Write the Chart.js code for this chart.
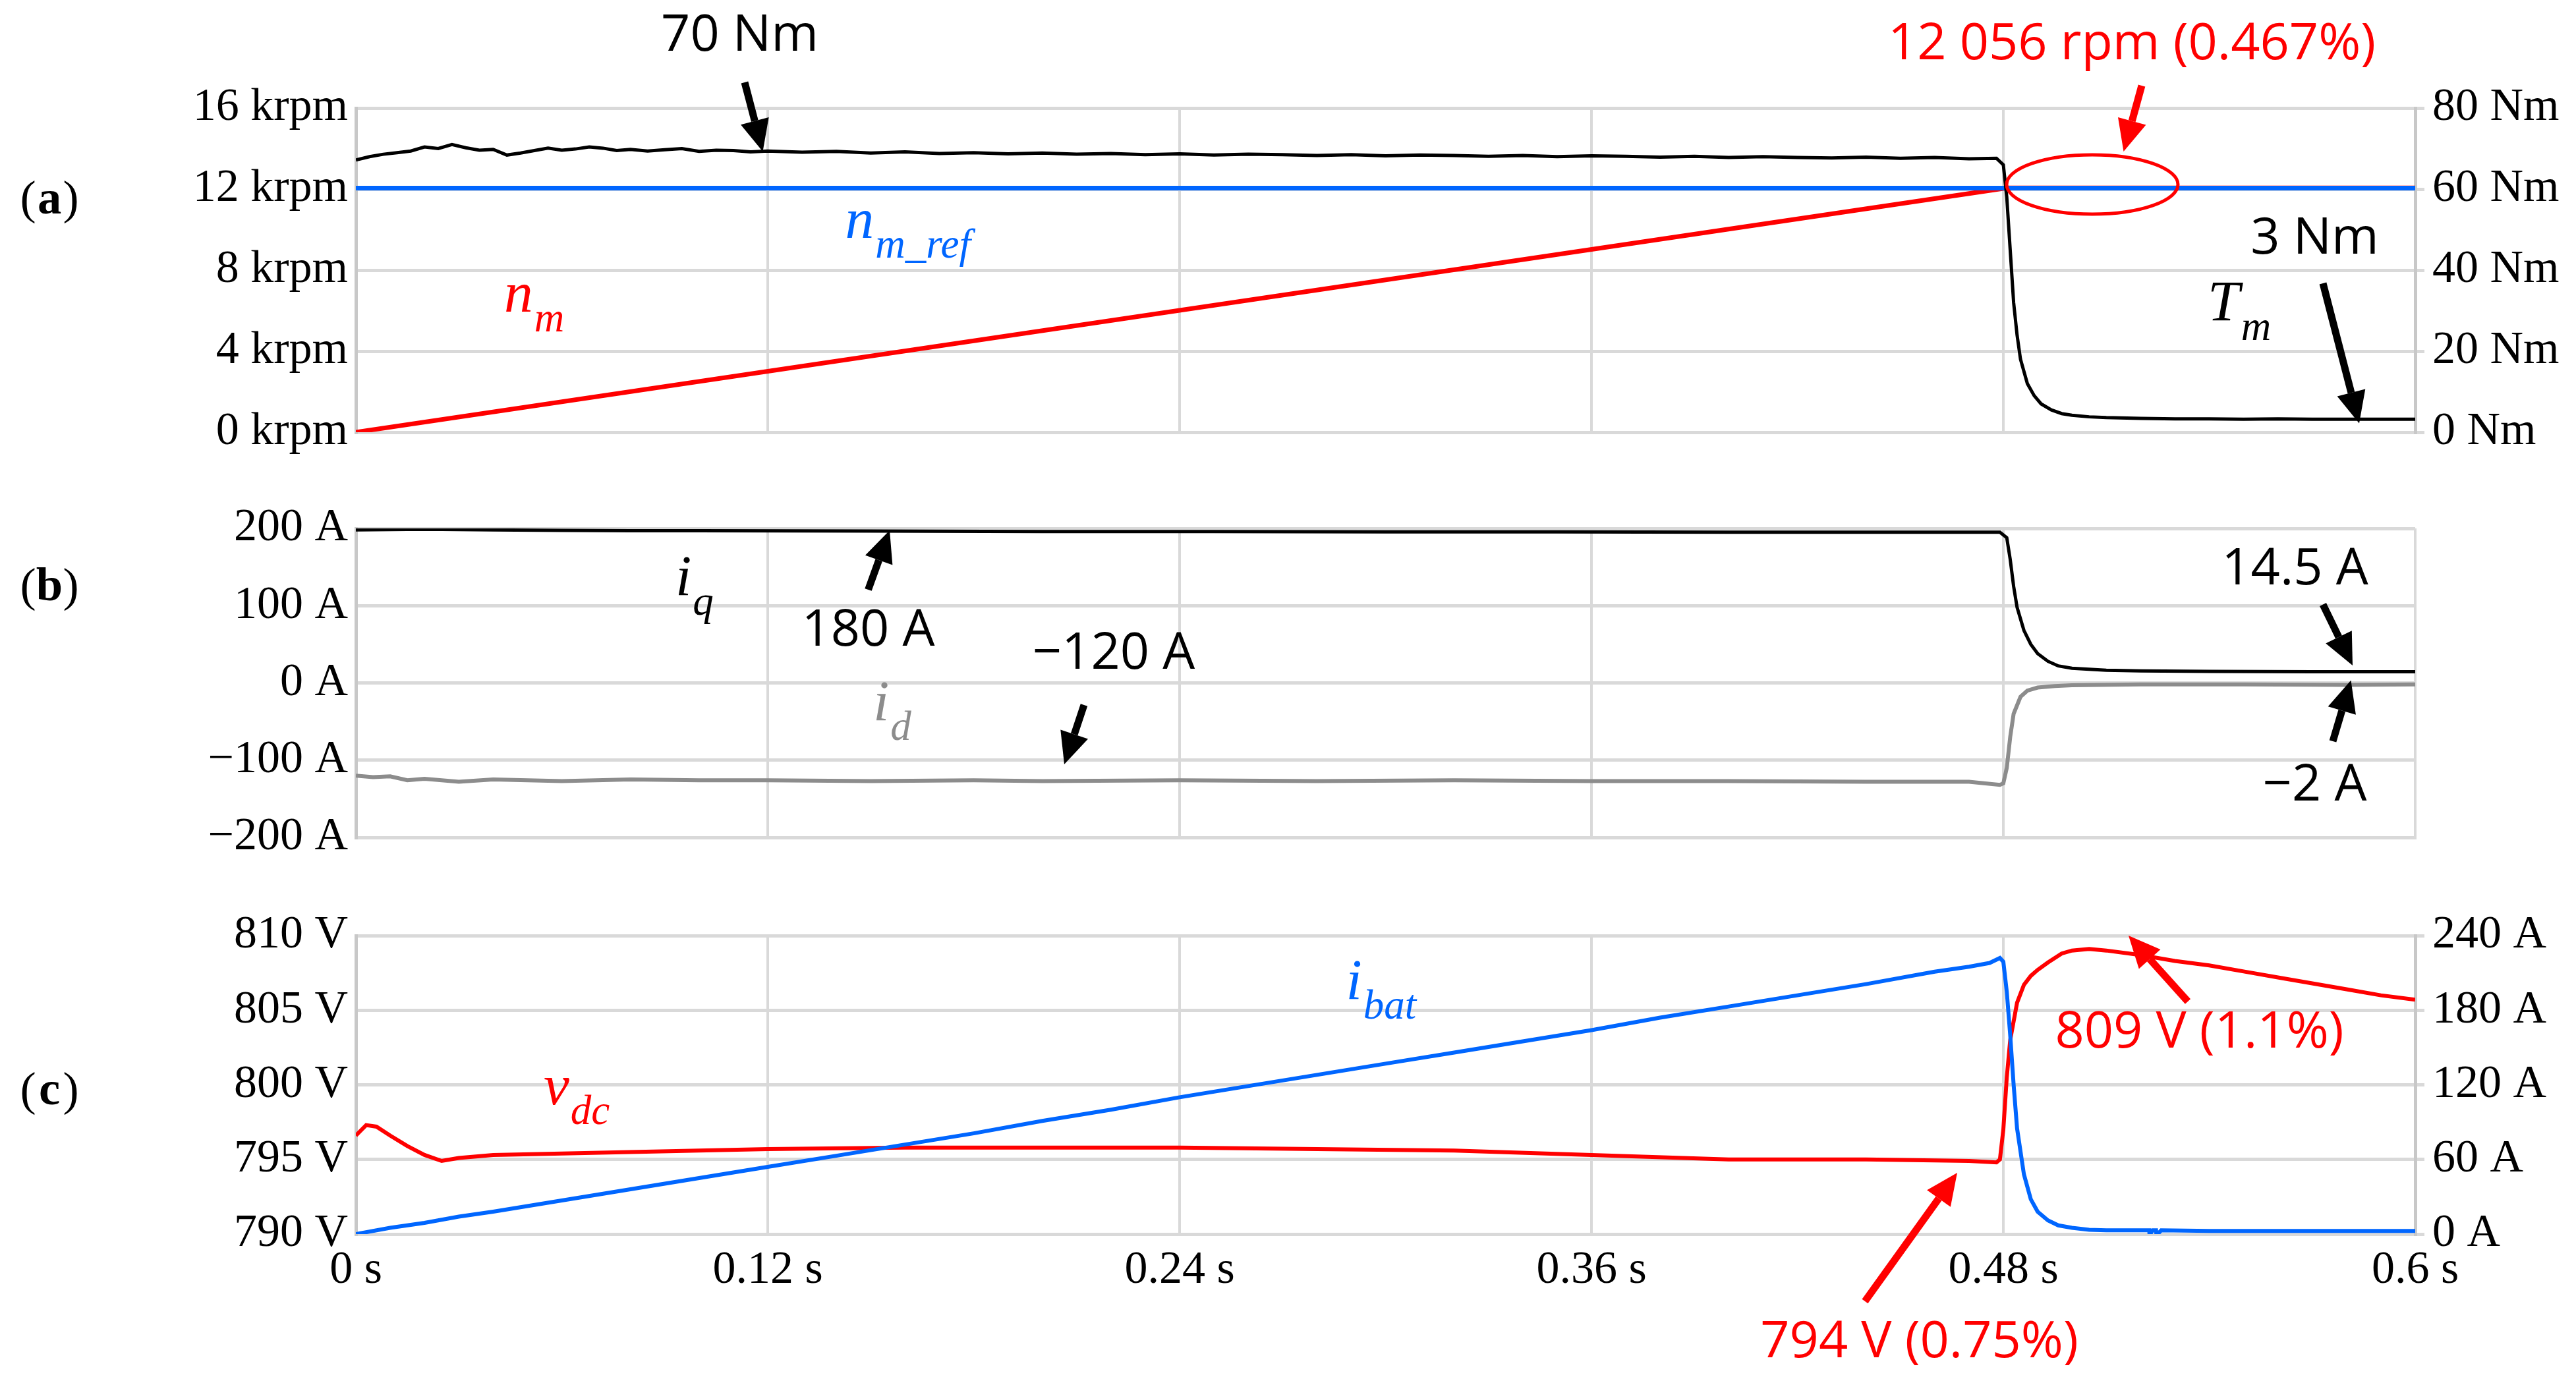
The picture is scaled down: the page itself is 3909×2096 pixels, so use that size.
<!DOCTYPE html>
<html><head><meta charset="utf-8">
<script src="https://cdn.jsdelivr.net/npm/chart.js@4"></script>
<style>
html,body{margin:0;padding:0;background:#fff;width:3909px;height:2096px;overflow:hidden}
canvas{position:absolute;left:0}
</style></head><body>
<div id="wa" style="position:absolute;left:0;top:110px;width:3909px;height:600px"><canvas id="ca"></canvas></div>
<div id="wb" style="position:absolute;left:0;top:748px;width:3909px;height:577px"><canvas id="cb"></canvas></div>
<div id="wc" style="position:absolute;left:0;top:1366px;width:3909px;height:607px"><canvas id="cc"></canvas></div>
<canvas id="ov" width="3909" height="2096" style="top:0;pointer-events:none"></canvas>
<script>
// ---------- data ----------
const xTicks = [0, 0.12, 0.24, 0.36, 0.48, 0.6];
const xTickLabels = ["0 s", "0.12 s", "0.24 s", "0.36 s", "0.48 s", "0.6 s"];
const aLeftTicks = [0, 4, 8, 12, 16];
const aLeftLabels = ["0 krpm", "4 krpm", "8 krpm", "12 krpm", "16 krpm"];
const aRightTicks = [0, 20, 40, 60, 80];
const aRightLabels = ["0 Nm", "20 Nm", "40 Nm", "60 Nm", "80 Nm"];
const bTicks = [-200, -100, 0, 100, 200];
const bLabels = ["\u2212200 A", "\u2212100 A", "0 A", "100 A", "200 A"];
const cLeftTicks = [790, 795, 800, 805, 810];
const cLeftLabels = ["790 V", "795 V", "800 V", "805 V", "810 V"];
const cRightTicks = [0, 60, 120, 180, 240];
const cRightLabels = ["0 A", "60 A", "120 A", "180 A", "240 A"];

// speed (krpm)
const nmT = [0, 0.481, 0.6];
const nmV = [0, 12.056, 12.056];
const nmRefT = [0, 0.6];
const nmRefV = [12.05, 12.05];

// torque (Nm)
const tmT = [0,0.004,0.008,0.012,0.016,0.02,0.024,0.028,0.032,0.036,0.04,0.044,0.048,0.052,0.056,0.06,0.064,0.068,0.072,0.076,0.08,0.085,0.09,0.095,0.1,0.105,0.11,0.115,0.12,0.13,0.14,0.15,0.16,0.17,0.18,0.19,0.2,0.21,0.22,0.23,0.24,0.25,0.26,0.27,0.28,0.29,0.3,0.31,0.32,0.33,0.34,0.35,0.36,0.37,0.38,0.39,0.4,0.41,0.42,0.43,0.44,0.45,0.46,0.47,0.478,0.48,0.481,0.482,0.483,0.484,0.485,0.487,0.489,0.491,0.494,0.497,0.5,0.505,0.51,0.52,0.53,0.54,0.55,0.56,0.57,0.58,0.59,0.6];
const tmV = [67.2,68.0,68.6,69.0,69.4,70.4,70.0,71.0,70.2,69.6,69.8,68.4,68.9,69.5,70.1,69.6,69.9,70.4,70.1,69.5,69.8,69.4,69.7,70.0,69.3,69.6,69.5,69.2,69.4,69.1,69.3,68.9,69.2,68.8,69.0,68.7,68.9,68.6,68.8,68.5,68.7,68.4,68.6,68.5,68.3,68.5,68.2,68.4,68.3,68.1,68.3,68.0,68.2,68.1,67.9,68.1,67.8,68.0,67.8,67.7,67.9,67.6,67.8,67.5,67.6,66.0,58.0,45.0,32.0,24.0,18.0,12.0,9.0,7.0,5.5,4.6,4.2,3.8,3.6,3.4,3.3,3.3,3.2,3.3,3.2,3.2,3.2,3.2];

// dq currents (A)
const iqT = [0,0.02,0.04,0.06,0.08,0.1,0.15,0.2,0.25,0.3,0.35,0.4,0.45,0.479,0.481,0.482,0.483,0.484,0.486,0.488,0.49,0.493,0.496,0.5,0.51,0.52,0.54,0.57,0.6];
const iqV = [198,199,198,197.5,197,197,196.5,196,196,195.5,195.5,195,195,195,188,160,125,98,68,50,38,28,22,19,16.5,15.5,15,14.6,14.5];
const idT = [0,0.005,0.01,0.015,0.02,0.03,0.04,0.05,0.06,0.08,0.1,0.12,0.15,0.18,0.2,0.24,0.28,0.32,0.36,0.4,0.44,0.47,0.479,0.48,0.481,0.482,0.483,0.485,0.487,0.49,0.495,0.5,0.52,0.55,0.58,0.6];
const idV = [-120,-122,-121,-126,-124,-128,-125,-126,-127,-125,-126,-126,-127,-126,-127,-126,-127,-126,-127,-127,-128,-128,-132,-130,-110,-70,-40,-18,-10,-6,-4,-3,-2,-2,-2.5,-2];

// DC link (V) and battery current (A)
const vdcT = [0,0.003,0.006,0.01,0.015,0.02,0.025,0.03,0.04,0.06,0.08,0.1,0.12,0.16,0.2,0.24,0.28,0.32,0.36,0.4,0.44,0.47,0.478,0.479,0.48,0.481,0.482,0.484,0.486,0.488,0.49,0.493,0.497,0.5,0.505,0.51,0.52,0.53,0.54,0.55,0.56,0.57,0.58,0.59,0.6];
const vdcV = [796.6,797.3,797.2,796.6,795.9,795.3,794.9,795.1,795.3,795.4,795.5,795.6,795.7,795.8,795.8,795.8,795.7,795.6,795.3,795.0,795.0,794.9,794.8,795.0,797.0,800.5,803.0,805.5,806.7,807.3,807.7,808.2,808.8,809.0,809.1,809.0,808.7,808.3,808.0,807.6,807.2,806.8,806.4,806.0,805.7];
const ibatT = [0,0.01,0.02,0.03,0.04,0.06,0.08,0.1,0.12,0.14,0.16,0.18,0.2,0.22,0.24,0.26,0.28,0.3,0.32,0.34,0.36,0.38,0.4,0.42,0.44,0.46,0.47,0.476,0.479,0.48,0.481,0.482,0.483,0.484,0.486,0.488,0.49,0.493,0.496,0.5,0.505,0.51,0.52,0.5225,0.5226,0.5235,0.5245,0.5246,0.526,0.54,0.56,0.58,0.6];
const ibatV = [0,5,9,14,18,27,36,45,54,63,72,81,91,100,110,119,128,137,146,155,164,174,183,192,201,211,215,218,222,219,195,160,120,85,48,28,18,11,7,5,3.5,3,3,3,-1,3,3,-1,3,2.5,2.5,2.5,2.5];

// ---------- helpers ----------
const pts = (t, v) => t.map((x, i) => ({x, y: v[i]}));
const GRID = '#d9d9d9';
const TF = 'Liberation Serif';
const tickFont = {family: TF, size: 70};
function fixedTicks(vals){ return function(s){ s.ticks = vals.map(v => ({value: v})); }; }
function yAxis(pos, min, max, vals, labels, grid, width){
  return {
    type: 'linear', position: pos, min, max,
    afterBuildTicks: fixedTicks(vals),
    afterFit: s => { s.width = width; },
    ticks: {font: tickFont, color: '#000', padding: 12, autoSkip: false,
      callback: (v) => { const i = vals.indexOf(v); return i >= 0 ? labels[i] : ''; }},
    grid: {display: true, drawOnChartArea: grid, color: GRID, lineWidth: 5, tickLength: pos === 'right' ? 14 : 0},
    border: {display: true, color: '#c8c8c8', width: 5}
  };
}
function xAxis(showLabels){
  return {
    type: 'linear', min: 0, max: 0.6,
    afterBuildTicks: fixedTicks(xTicks),
    afterFit: s => { s.height = showLabels ? 100 : 0; },
    ticks: {display: showLabels, font: tickFont, color: '#000', padding: 14, maxRotation: 0,
      callback: v => { const i = xTicks.findIndex(t => Math.abs(t - v) < 1e-9); return i >= 0 ? xTickLabels[i] : ''; }},
    grid: {color: GRID, lineWidth: 4, drawTicks: false},
    border: {display: true, color: GRID, width: 5}
  };
}
function ds(data, color, w, axis){
  return {data, borderColor: color, borderWidth: w, pointRadius: 0, tension: 0, fill: false, yAxisID: axis};
}
const common = {responsive: true, maintainAspectRatio: false, animation: false, parsing: true,
  plugins: {legend: {display: false}, tooltip: {enabled: false}}};

new Chart(document.getElementById('ca'), {
  type: 'line',
  data: {datasets: [
    ds(pts(tmT, tmV), '#000', 5, 'yR'),
    ds(pts(nmRefT, nmRefV), '#0066ff', 7, 'y'),
    ds(pts(nmT, nmV), '#ff0000', 7, 'y')
  ]},
  options: Object.assign({}, common, {
    layout: {padding: {top: 40, bottom: 0, left: 0, right: 0}},
    scales: {x: xAxis(false), y: yAxis('left', 0, 16, aLeftTicks, aLeftLabels, true, 540),
      yR: yAxis('right', 0, 80, aRightTicks, aRightLabels, false, 244)}
  })
});
new Chart(document.getElementById('cb'), {
  type: 'line',
  data: {datasets: [
    ds(pts(idT, idV), '#8c8c8c', 6, 'y'),
    ds(pts(iqT, iqV), '#000', 5, 'y')
  ]},
  options: Object.assign({}, common, {
    layout: {padding: {top: 40, bottom: 0, left: 0, right: 244}},
    scales: {x: xAxis(false), y: yAxis('left', -200, 200, bTicks, bLabels, true, 540)}
  })
});
new Chart(document.getElementById('cc'), {
  type: 'line',
  data: {datasets: [
    ds(pts(ibatT, ibatV), '#0066ff', 6, 'yR'),
    ds(pts(vdcT, vdcV), '#ff0000', 6, 'y')
  ]},
  options: Object.assign({}, common, {
    layout: {padding: {top: 40, bottom: 0, left: 0, right: 0}},
    scales: {x: xAxis(true), y: yAxis('left', 790, 810, cLeftTicks, cLeftLabels, true, 540),
      yR: yAxis('right', 0, 240, cRightTicks, cRightLabels, false, 244)}
  })
});

// ---------- annotation overlay (page coordinates) ----------
const S = 2.5;
const ctx = document.getElementById('ov').getContext('2d');
ctx.textAlign = 'center'; ctx.textBaseline = 'middle';
function txt(s, x, y, color, font){ ctx.fillStyle = color; ctx.font = font; ctx.fillText(s, x*S, y*S); }
function arrow(x1, y1, x2, y2, color){
  x1*=S; y1*=S; x2*=S; y2*=S;
  const a = Math.atan2(y2-y1, x2-x1), hl = 48, hw = 22;
  const bx = x2 - hl*Math.cos(a), by = y2 - hl*Math.sin(a);
  ctx.strokeStyle = color; ctx.fillStyle = color; ctx.lineWidth = 11;
  ctx.beginPath(); ctx.moveTo(x1, y1); ctx.lineTo(bx, by); ctx.stroke();
  ctx.beginPath(); ctx.moveTo(x2, y2);
  ctx.lineTo(bx + hw*Math.sin(a), by - hw*Math.cos(a));
  ctx.lineTo(bx - hw*Math.sin(a), by + hw*Math.cos(a)); ctx.closePath(); ctx.fill();
}
function sym(main, sub, x, y, color, size){
  ctx.fillStyle = color; ctx.textAlign = 'left';
  ctx.font = 'italic ' + (size*S) + 'px ' + TF; ctx.fillText(main, x*S, y*S);
  const w = ctx.measureText(main).width;
  ctx.font = 'italic ' + (size*0.72*S) + 'px ' + TF; ctx.fillText(sub, x*S + w + 2, (y + size*0.42)*S);
  ctx.textAlign = 'center';
}
const SF = (31*S) + 'px "Open Sans"';
const PF = (29*S) + 'px ' + TF;
function draw(){
  ctx.clearRect(0,0,3909,2096);
  ctx.fillStyle = '#000'; ctx.textAlign = 'center';
  [['a',122],['b',357],['c',663]].forEach(([l, y]) => {
    ctx.font = PF; ctx.fillText('(', 17*S, y*S); ctx.fillText(')', 43*S, y*S);
    ctx.font = 'bold ' + PF; ctx.fillText(l, 30*S, y*S);
  });
  // panel a
  txt('70 Nm', 449, 22, '#000', SF); arrow(452, 50, 463, 92, '#000');
  txt('12 056 rpm (0.467%)', 1294, 27, '#ff0000', SF); arrow(1300, 52, 1289, 92, '#ff0000');
  ctx.strokeStyle = '#ff0000'; ctx.lineWidth = 5;
  ctx.beginPath(); ctx.ellipse(1270*S, 112*S, 52*S, 18*S, 0, 0, Math.PI*2); ctx.stroke();
  txt('3 Nm', 1405, 145, '#000', SF); arrow(1410, 172, 1432, 257, '#000');
  sym('n', 'm_ref', 513, 135, '#0066ff', 35);
  sym('n', 'm', 306, 180, '#ff0000', 35);
  sym('T', 'm', 1340, 185, '#000', 35);
  // panel b
  sym('i', 'q', 410, 352, '#000', 35);
  txt('180 A', 527, 383, '#000', SF); arrow(527, 358, 540, 322, '#000');
  txt('\u2212120 A', 676, 397, '#000', SF); arrow(658, 428, 646, 464, '#000');
  sym('i', 'd', 530, 428, '#8c8c8c', 35);
  txt('14.5 A', 1393, 346, '#000', SF); arrow(1410, 367, 1428, 404, '#000');
  txt('\u22122 A', 1405, 477, '#000', SF); arrow(1416, 450, 1427, 413, '#000');
  // panel c
  sym('i', 'bat', 817, 597, '#0066ff', 35);
  sym('v', 'dc', 330, 661, '#ff0000', 35);
  txt('809 V (1.1%)', 1335, 627, '#ff0000', SF); arrow(1328, 608, 1292, 568, '#ff0000');
  txt('794 V (0.75%)', 1165, 815, '#ff0000', SF); arrow(1132, 790, 1188, 712, '#ff0000');
}
draw();
</script></body></html>
